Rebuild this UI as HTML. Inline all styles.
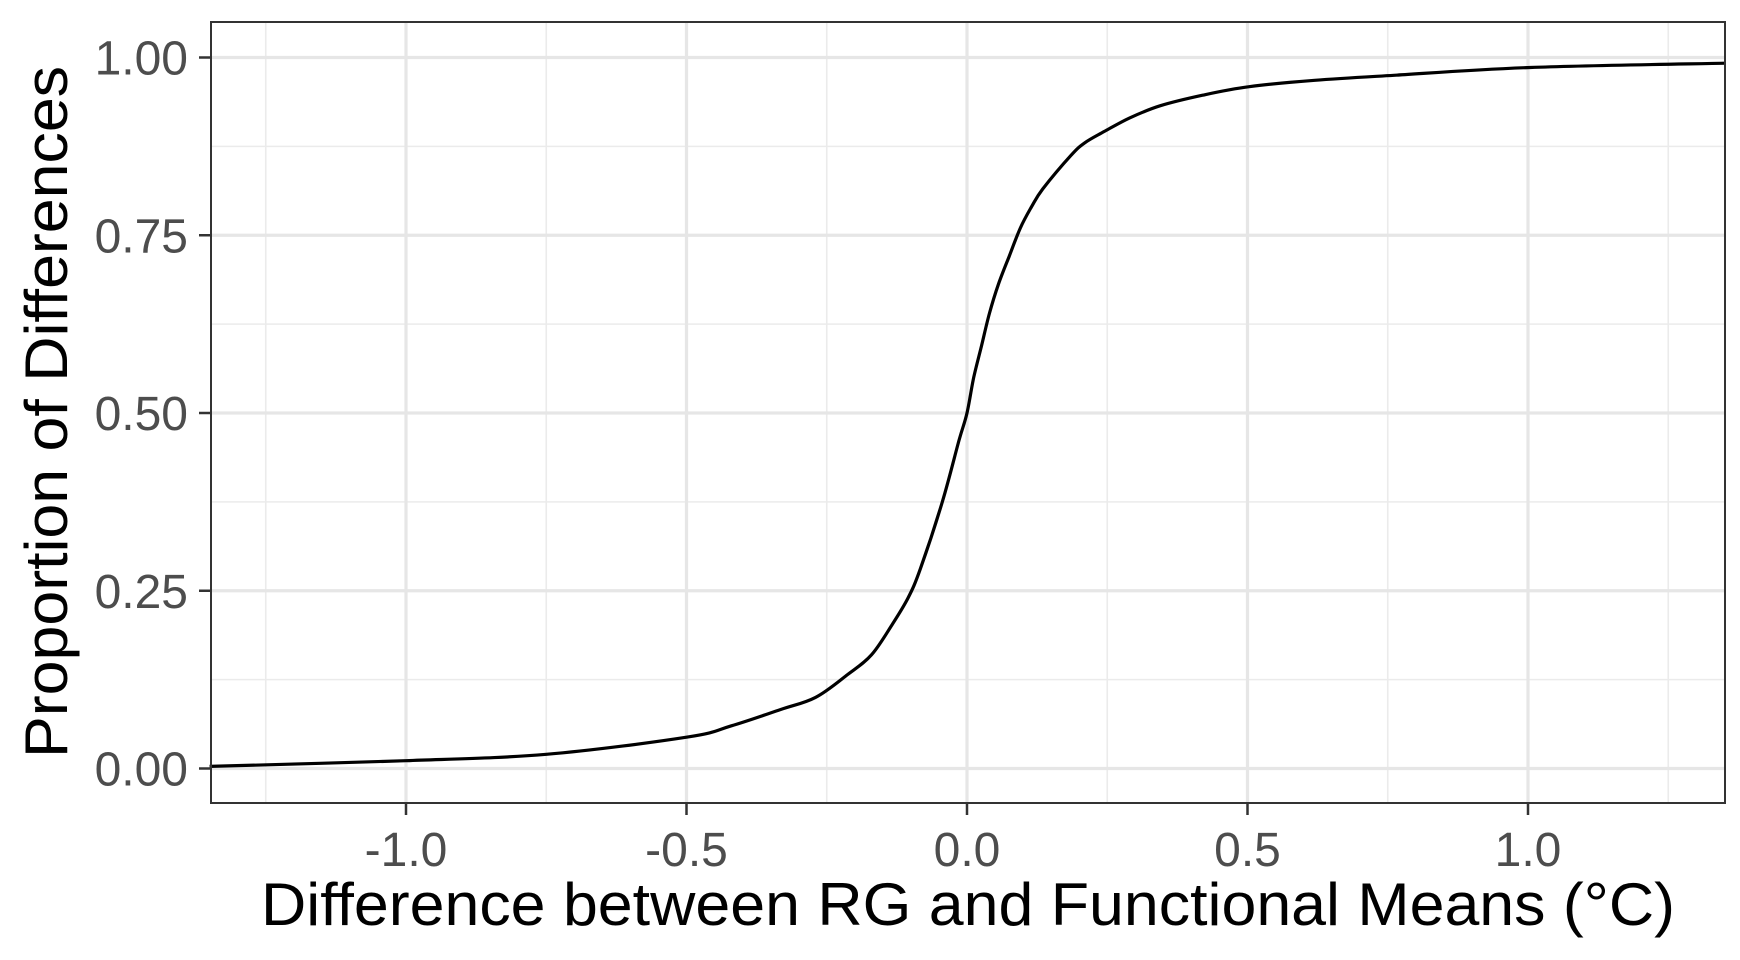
<!DOCTYPE html>
<html><head><meta charset="utf-8"><style>
html,body{margin:0;padding:0;background:#fff;}
svg{display:block;font-family:"Liberation Sans",Arial,sans-serif;}
</style></head><body>
<svg id="chart" width="1740" height="960" viewBox="0 0 1740 960" xmlns="http://www.w3.org/2000/svg">
<rect x="0" y="0" width="1740" height="960" fill="#fff"/>
<g id="grid"></g>
<g id="marks"></g>
<g id="axes"></g>
<text x="968" y="925" text-anchor="middle" font-size="60" fill="#000" textLength="1414" lengthAdjust="spacingAndGlyphs">Difference between RG and Functional Means (°C)</text>
<text transform="translate(67,412) rotate(-90)" text-anchor="middle" font-size="60" fill="#000" textLength="692" lengthAdjust="spacingAndGlyphs">Proportion of Differences</text>
</svg>
<script>
const xValues = [-1.35,-1.0,-0.75,-0.5,-0.42,-0.332,-0.27,-0.213,-0.17,-0.133,-0.105,-0.083,-0.044,-0.014,0,0.012,0.026,0.04,0.056,0.075,0.095,0.115,0.135,0.185,0.21,0.245,0.29,0.344,0.42,0.503,0.62,0.761,1.004,1.352];
const yValues = [0.003,0.011,0.02,0.044,0.06,0.083,0.10,0.132,0.16,0.203,0.24,0.281,0.375,0.462,0.5,0.55,0.595,0.64,0.681,0.72,0.760,0.79,0.815,0.862,0.88,0.896,0.915,0.932,0.947,0.959,0.968,0.975,0.986,0.992];
const xTicks = [-1.0,-0.5,0.0,0.5,1.0];
const xTickLabels = ["-1.0","-0.5","0.0","0.5","1.0"];
const xMinor = [-1.25,-0.75,-0.25,0.25,0.75,1.25];
const yTicks = [0,0.25,0.5,0.75,1.0];
const yTickLabels = ["0.00","0.25","0.50","0.75","1.00"];
const yMinor = [0.125,0.375,0.625,0.875];

const PL=211, PR=1725, PT=22, PB=803;
const X0=967, XS=561, Y0=768.5, YS=711;
function sx(v){return X0+v*XS;}
function sy(v){return Y0-v*YS;}
const NS="http://www.w3.org/2000/svg";
function mk(tag,attrs,parent){const e=document.createElementNS(NS,tag);for(const k in attrs)e.setAttribute(k,attrs[k]);parent.appendChild(e);return e;}
const grid=document.getElementById('grid'), marks=document.getElementById('marks'), axes=document.getElementById('axes');

for(const v of xMinor){const l=mk('line',{x1:sx(v),x2:sx(v),y1:PT,y2:PB,stroke:'#ebebeb','stroke-width':1.6},grid);

}
for(const v of yMinor){const l=mk('line',{x1:PL,x2:PR,y1:sy(v),y2:sy(v),stroke:'#ebebeb','stroke-width':1.6},grid);

}
for(const v of xTicks){const l=mk('line',{x1:sx(v),x2:sx(v),y1:PT,y2:PB,stroke:'#e6e6e6','stroke-width':3.2},grid);

}
for(const v of yTicks){const l=mk('line',{x1:PL,x2:PR,y1:sy(v),y2:sy(v),stroke:'#e6e6e6','stroke-width':3.2},grid);

}

// smooth path (Catmull-Rom -> Bezier) through data points
const pts=xValues.map((x,i)=>[sx(x),sy(yValues[i])]);
let d='M'+pts[0][0].toFixed(1)+','+pts[0][1].toFixed(1);
for(let i=0;i<pts.length-1;i++){
const p0=pts[Math.max(i-1,0)],p1=pts[i],p2=pts[i+1],p3=pts[Math.min(i+2,pts.length-1)];
const c1=[p1[0]+(p2[0]-p0[0])/6,p1[1]+(p2[1]-p0[1])/6];
const c2=[p2[0]-(p3[0]-p1[0])/6,p2[1]-(p3[1]-p1[1])/6];
d+='C'+c1[0].toFixed(1)+','+c1[1].toFixed(1)+' '+c2[0].toFixed(1)+','+c2[1].toFixed(1)+' '+p2[0].toFixed(1)+','+p2[1].toFixed(1);
}
const path=mk('path',{d:d,fill:'none',stroke:'#000','stroke-width':3.2,'stroke-linejoin':'round'},marks);



const border=mk('rect',{x:PL,y:PT,width:PR-PL,height:PB-PT,fill:'none',stroke:'#333','stroke-width':2},axes);



xTicks.forEach((v,i)=>{
const t=mk('line',{x1:sx(v),x2:sx(v),y1:PB,y2:PB+12,stroke:'#333','stroke-width':2.5},axes);


const tx=mk('text',{x:sx(v),y:866,'text-anchor':'middle','font-size':48,fill:'#4d4d4d'},axes);
tx.textContent=xTickLabels[i];


});
yTicks.forEach((v,i)=>{
const t=mk('line',{x1:PL-12,x2:PL,y1:sy(v),y2:sy(v),stroke:'#333','stroke-width':2.5},axes);


const tx=mk('text',{x:188,y:sy(v)+17,'text-anchor':'end','font-size':48,fill:'#4d4d4d'},axes);
tx.textContent=yTickLabels[i];


});
</script>
</body></html>
